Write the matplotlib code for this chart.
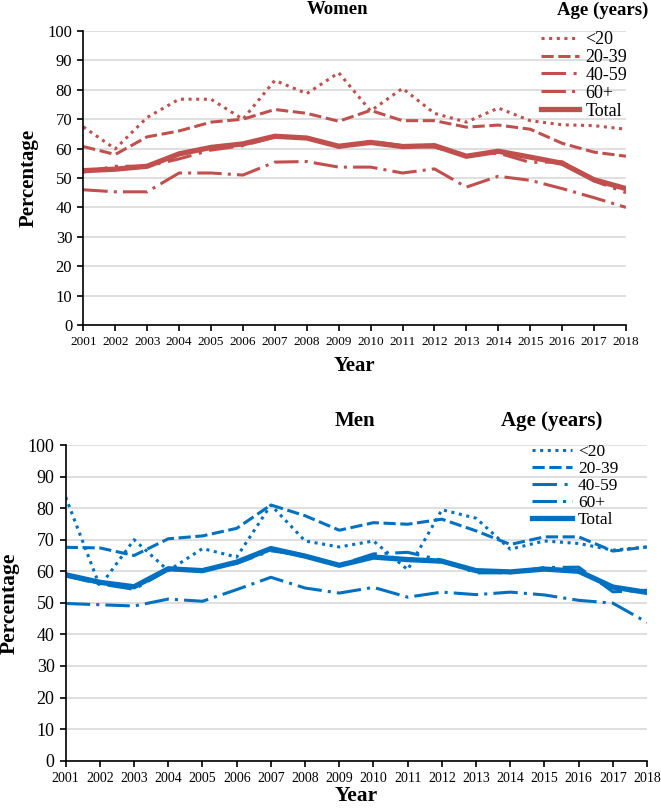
import matplotlib
matplotlib.use('Agg')
import matplotlib.pyplot as plt

plt.rcParams['font.family'] = ['Liberation Serif', 'DejaVu Serif']

years = list(range(2001, 2019))
labels = ['<20', '20-39', '40-59', '60+', 'Total']

# Women
w_u20 = [67.4, 59.9, 70.6, 76.8, 76.8, 70.0, 83.2, 78.7, 85.8, 72.8, 80.5, 72.0, 69.0, 73.8, 69.5, 68.1, 67.8, 66.6]
w_20_39 = [60.7, 58.0, 64.0, 66.0, 69.0, 70.0, 73.3, 72.0, 69.3, 73.0, 69.5, 69.5, 67.3, 68.0, 66.6, 61.8, 58.8, 57.4]
w_40_59 = [52.0, 54.0, 54.0, 56.5, 59.5, 61.0, 64.0, 63.5, 60.5, 62.5, 61.0, 60.5, 57.5, 58.5, 55.3, 55.5, 49.0, 45.0]
w_60p = [46.0, 45.3, 45.3, 51.7, 51.7, 51.0, 55.4, 55.6, 53.7, 53.7, 51.7, 53.1, 46.9, 50.6, 49.2, 46.4, 43.3, 40.0]
w_total = [52.5, 53.0, 54.0, 58.2, 60.4, 61.6, 64.2, 63.6, 60.8, 62.1, 60.7, 61.0, 57.4, 59.1, 57.1, 55.0, 49.4, 46.4]

# Men
m_u20 = [83.5, 55.2, 70.0, 60.2, 67.2, 64.5, 81.0, 69.6, 67.7, 69.6, 60.5, 79.5, 76.8, 67.0, 69.6, 68.8, 66.7, 67.7]
m_20_39 = [67.6, 67.4, 65.0, 70.3, 71.2, 73.6, 81.0, 77.6, 73.0, 75.4, 74.9, 76.5, 72.8, 68.5, 70.9, 70.9, 66.4, 67.7]
m_40_59 = [58.5, 56.0, 54.3, 60.5, 60.5, 62.5, 66.5, 65.0, 62.0, 65.5, 66.0, 63.5, 59.5, 59.5, 61.2, 61.3, 53.5, 54.0]
m_60p = [49.8, 49.4, 49.0, 51.2, 50.5, 54.2, 58.1, 54.7, 53.1, 54.9, 51.8, 53.4, 52.6, 53.4, 52.5, 50.8, 49.9, 43.8]
m_total = [58.9, 56.5, 55.1, 60.8, 60.2, 62.9, 67.2, 64.8, 61.9, 64.5, 63.7, 63.2, 60.2, 59.8, 60.7, 60.0, 55.0, 53.3]

W, H = 661, 811
fig = plt.figure(figsize=(W / 100, H / 100), dpi=100)

styles = [(0, (1, 1.5)), (0, (4, 1.5)), (0, (8, 2.5, 1, 2.5)), (0, (8, 2, 1, 2)), '-']
widths = [2.2, 2.2, 2.2, 2.2, 3.8]


def panel(rect, series, color, title, title_x, title_y, age_x, fs):
    ax = fig.add_axes(rect)
    for s, ls, lw, lab in zip(series, styles, widths, labels):
        ax.plot(years, s, color=color, linestyle=ls, linewidth=lw, label=lab)
    ax.set_xlim(2001, 2018)
    ax.set_ylim(0, 100)
    ax.set_xticks(years)
    ax.set_yticks(range(0, 101, 10))
    ax.grid(axis='y', color='#d9d9d9', linewidth=1.2)
    ax.set_axisbelow(True)
    for sp in ['top', 'right']:
        ax.spines[sp].set_visible(False)
    ax.spines['left'].set_linewidth(1.2)
    ax.spines['bottom'].set_linewidth(1.2)
    ax.tick_params(axis='x', labelsize=fs['xt'], length=4, width=1.2, pad=4)
    ax.tick_params(axis='y', labelsize=fs['yt'], length=4, width=1.2, pad=4)
    ax.set_ylabel('Percentage', fontsize=fs['lab'], fontweight='bold', labelpad=6)
    ax.set_xlabel('Year', fontsize=fs['lab'], fontweight='bold', labelpad=fs['xpad'])
    fig.text(title_x / W, 1 - title_y / H, title, fontsize=fs['title'], fontweight='bold',
             ha='center', va='center')
    fig.text(age_x / W, 1 - title_y / H, 'Age (years)', fontsize=fs['title'], fontweight='bold',
             ha='center', va='center')
    return ax


wax = panel([83.3 / W, 1 - 325 / H, 542.7 / W, 294 / H],
            [w_u20, w_20_39, w_40_59, w_60p, w_total], '#c0504d',
            'Women', 338, 10, 603,
            {'xt': 9.5, 'yt': 12, 'lab': 15, 'title': 13.5, 'xpad': 6})
wax.legend(loc='upper left', bbox_to_anchor=(541 / W, 1 - 31 / H), bbox_transform=fig.transFigure,
           frameon=False, fontsize=13, handlelength=2.1, handletextpad=0.35,
           labelspacing=0.05, borderaxespad=0, borderpad=0)

max_ = panel([65.7 / W, 1 - 760.7 / H, 581.4 / W, 315.7 / H],
             [m_u20, m_20_39, m_40_59, m_60p, m_total], '#0070c0',
             'Men', 355, 421, 552,
             {'xt': 10, 'yt': 13, 'lab': 15.5, 'title': 15, 'xpad': 1})
max_.legend(loc='upper left', bbox_to_anchor=(532 / W, 1 - 444 / H), bbox_transform=fig.transFigure,
            frameon=False, fontsize=12.5, handlelength=2.3, handletextpad=0.35,
            labelspacing=0.05, borderaxespad=0, borderpad=0)

fig.savefig('out.png', dpi=100)
